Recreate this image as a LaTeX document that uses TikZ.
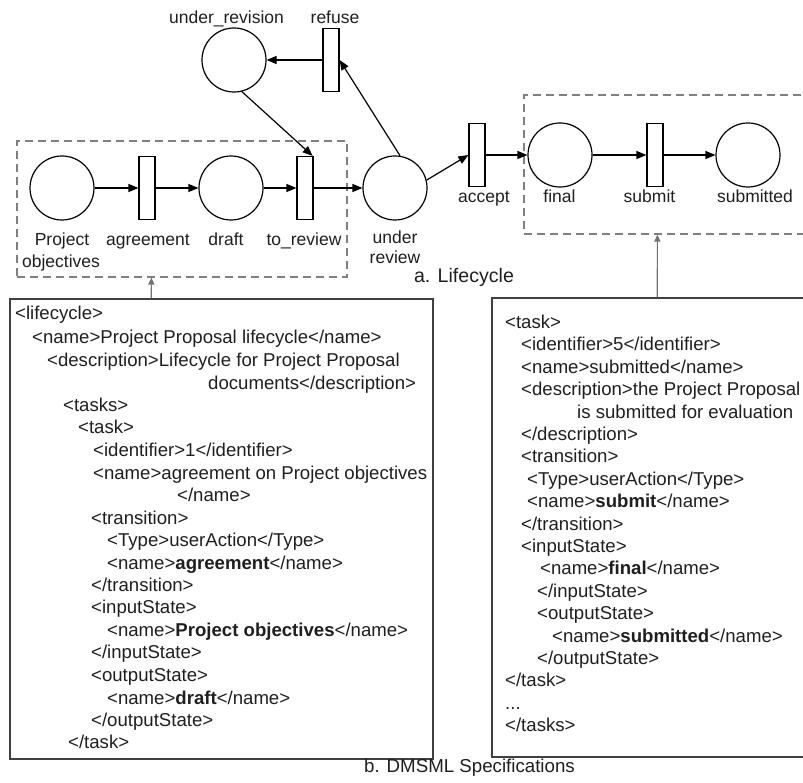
\documentclass[tikz,border=0pt]{standalone}
\usepackage{fontspec}
\setmainfont{Liberation Sans}
\usetikzlibrary{arrows.meta}

\newcommand{\codeline}[4]{\node[code,anchor=base west] (#1) at (#2,#3) {#4};}

\begin{document}
\begin{tikzpicture}[x=1pt,y=-1pt,
  place/.style={circle,draw=black,line width=1.2pt,minimum size=64pt,inner sep=0pt},
  trans/.style={rectangle,draw=black,line width=1.2pt,minimum width=16pt,minimum height=63pt,inner sep=0pt},
  lbl/.style={font=\fontsize{17.5}{20}\selectfont,text=black!88,inner sep=0pt,anchor=base},
  flow/.style={line width=1.2pt,-{Triangle[length=10pt,width=8pt]}},
  region/.style={draw=black!50,dash pattern=on 8pt off 5pt,line width=1.2pt,inner sep=0pt},
  codebox/.style={draw=black!75,line width=1.6pt,inner sep=0pt},
  code/.style={font=\fontsize{18.6}{22}\selectfont,text=black!88,inner sep=0pt},
  link/.style={draw=black!55,line width=1.1pt,-{Triangle[length=7pt,width=6pt]}},
  caption/.style={text=black!88,inner sep=0pt}
]
\useasboundingbox (0,0) rectangle (803,783);

% dashed regions around the two task groups
\node[region,minimum width=330pt,minimum height=136pt] (ldash) at (182,209) {};
\node[region,minimum width=290pt,minimum height=139pt] (rdash) at (669,164.5) {};

% places and transitions of the lifecycle net
\node[place] (po) at (62,188) {};
\node[trans] (agr) at (147,188) {};
\node[place] (draft) at (231,188) {};
\node[trans] (tr) at (305,188) {};
\node[place] (ur) at (395,188) {};
\node[place] (urev) at (234,60) {};
\node[trans] (refuse) at (331,60) {};
\node[trans] (accept) at (477,155) {};
\node[place] (final) at (560,155) {};
\node[trans] (submit) at (655,155) {};
\node[place] (subm) at (748,155) {};

% net labels
\node[lbl] (tpo1) at (62,246) {Project};
\node[lbl] (tpo2) at (61,268) {objectives};
\node[lbl] (tagr) at (148,246) {agreement};
\node[lbl] (tdraft) at (226,246) {draft};
\node[lbl] (ttr) at (304,246) {to\_review};
\node[lbl] (tur1) at (395,244) {under};
\node[lbl] (tur2) at (395,264) {review};
\node[lbl] (turev) at (226.5,24) {under\_revision};
\node[lbl] (tref) at (335,24) {refuse};
\node[lbl] (tacc) at (484,203) {accept};
\node[lbl] (tfin) at (559.5,203) {final};
\node[lbl] (tsub) at (649.5,203) {submit};
\node[lbl] (tsubm) at (755,203) {submitted};

% arcs
\draw[flow] (po) -- (agr);
\draw[flow] (agr) -- (draft);
\draw[flow] (draft) -- (tr);
\draw[flow] (tr) -- (ur);
\draw[flow] (ur.81) -- (refuse.east);
\draw[flow] (refuse) -- (urev);
\draw[flow] (urev.-76) -- ([xshift=-1pt]tr.north east);
\draw[flow] (ur.14) -- (accept.west);
\draw[flow] (accept) -- (final);
\draw[flow] (final) -- (submit);
\draw[flow] (submit) -- (subm);

\node[caption,font=\fontsize{19.6}{22}\selectfont] (capa) at (464,277) {a. Lifecycle};

% specification boxes
\node[codebox,minimum width=423pt,minimum height=460pt] (lbox) at (221.5,529) {};
\node[codebox,minimum width=318pt,minimum height=459pt] (rbox) at (651,527.5) {};

\draw[link] ([xshift=142pt]lbox.north west) -- ([xshift=135pt]ldash.south west);
\draw[link] ([xshift=166pt]rbox.north west) -- ([xshift=134pt]rdash.south west);

\codeline{l1}{15}{319.5}{<lifecycle>}
\codeline{l2}{32}{343.5}{<name>Project Proposal lifecycle</name>}
\codeline{l3}{47}{366.5}{<description>Lifecycle for Project Proposal}
\codeline{l4}{208}{389.5}{documents</description>}
\codeline{l5}{63}{411.5}{<tasks>}
\codeline{l6}{78}{433.5}{<task>}
\codeline{l7}{93}{456.5}{<identifier>1</identifier>}
\codeline{l8}{93}{479.5}{<name>agreement on Project objectives}
\codeline{l9}{177}{501.5}{</name>}
\codeline{l10}{91}{524.5}{<transition>}
\codeline{l11}{107}{546.5}{<Type>userAction</Type>}
\codeline{l12}{107}{569.5}{<name>\textbf{agreement}</name>}
\codeline{l13}{91}{591.5}{</transition>}
\codeline{l14}{91}{613.5}{<inputState>}
\codeline{l15}{107}{636.5}{<name>\textbf{Project objectives}</name>}
\codeline{l16}{91}{658.5}{</inputState>}
\codeline{l17}{91}{681.5}{<outputState>}
\codeline{l18}{107}{704.5}{<name>\textbf{draft}</name>}
\codeline{l19}{91}{726.5}{</outputState>}
\codeline{l20}{68}{748.5}{</task>}

\codeline{r1}{505}{328.5}{<task>}
\codeline{r2}{521}{350.5}{<identifier>5</identifier>}
\codeline{r3}{521}{373.5}{<name>submitted</name>}
\codeline{r4}{521}{395.5}{<description>the Project Proposal}
\codeline{r5}{577}{418.5}{is submitted for evaluation}
\codeline{r6}{521}{440.5}{</description>}
\codeline{r7}{521}{462.5}{<transition>}
\codeline{r8}{527}{485.5}{<Type>userAction</Type>}
\codeline{r9}{527}{507.5}{<name>\textbf{submit}</name>}
\codeline{r10}{521}{530.5}{</transition>}
\codeline{r11}{521}{552.5}{<inputState>}
\codeline{r12}{540}{574.5}{<name>\textbf{final}</name>}
\codeline{r13}{537}{597.5}{</inputState>}
\codeline{r14}{537}{619.5}{<outputState>}
\codeline{r15}{552}{642.5}{<name>\textbf{submitted}</name>}
\codeline{r16}{537}{664.5}{</outputState>}
\codeline{r17}{505}{686.5}{</task>}
\codeline{r18}{505}{709.5}{...}
\codeline{r19}{505}{731.5}{</tasks>}

\node[caption,font=\fontsize{18.7}{22}\selectfont] (capb) at (469.5,768) {b. DMSML Specifications};
\end{tikzpicture}
\end{document}
